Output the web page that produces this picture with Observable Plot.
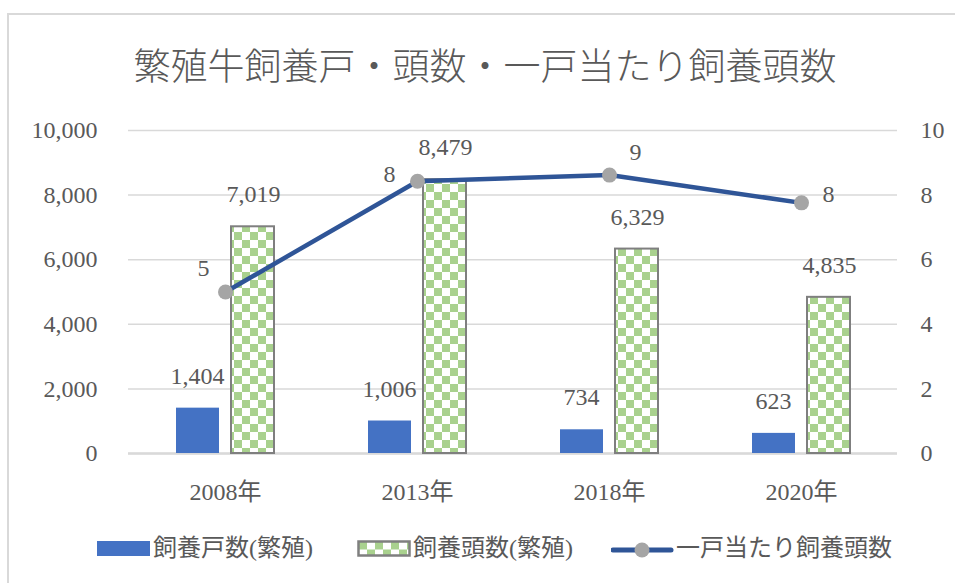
<!DOCTYPE html>
<html><head><meta charset="utf-8">
<script src="https://cdn.jsdelivr.net/npm/d3@7"></script>
<script src="https://cdn.jsdelivr.net/npm/@observablehq/plot@0.6"></script>
<style>
body{margin:0;background:#fff;}
#wrap{position:relative;width:955px;height:583px;overflow:hidden;font-family:"Liberation Serif","Noto Sans CJK JP",serif;color:#595959;background:#fff;}
#frame{position:absolute;left:7px;top:13px;width:980px;height:620px;border-left:2px solid #d9d9d9;border-top:2px solid #d9d9d9;}
#title{position:absolute;left:0;width:970px;top:39px;text-align:center;font-size:37px;line-height:50px;font-weight:300;font-family:"Noto Sans CJK JP",sans-serif;color:#595959;white-space:nowrap;}
#chart{position:absolute;left:0;top:0;}
.lg{position:absolute;font-size:24px;line-height:30px;top:533px;font-family:"Liberation Serif","Noto Sans CJK JP",serif;color:#595959;white-space:nowrap;}
.sw{position:absolute;}
</style>
</head><body>
<div id="wrap">
  <div id="frame"></div>
  <div id="chart"></div>
  <div id="title"></div>
  <div id="legend"></div>
</div>
<script>
// ---- data ----
const titleText = "繁殖牛飼養戸・頭数・一戸当たり飼養頭数";
const years = ["2008年", "2013年", "2018年", "2020年"];
const households = [1404, 1006, 734, 623];          // 飼養戸数(繁殖)
const heads = [7019, 8479, 6329, 4835];             // 飼養頭数(繁殖)
const perHead = [5.0, 8.43, 8.62, 7.76];            // 一戸当たり飼養頭数
const leftTicks = [0, 2000, 4000, 6000, 8000, 10000];
const rightTicks = [0, 2, 4, 6, 8, 10];
const seriesNames = ["飼養戸数(繁殖)", "飼養頭数(繁殖)", "一戸当たり飼養頭数"];

// ---- build ----
const RATIO = 1000; // right axis (0..10) mapped onto left axis (0..10000)
const rows = years.map((y, i) => ({year: y, households: households[i], heads: heads[i], perHead: perHead[i], i}));
const fmt = d3.format(",");
const fmt0 = d3.format(".0f");
const textColor = "#595959";
const fontFam = '"Liberation Serif","Noto Sans CJK JP",serif';

document.getElementById("title").textContent = titleText;

const lineLabel = (idx, dx, dy) => Plot.text(rows.filter(d => d.i === idx), {
  x: "year", y: d => d.perHead * RATIO, text: d => fmt0(d.perHead),
  dx, dy, fill: textColor, fontSize: 24
});

const plot = Plot.plot({
  width: 955,
  height: 583,
  marginTop: 130,
  marginBottom: 130,
  marginLeft: 128,
  marginRight: 58,
  style: {fontFamily: fontFam, fontSize: "24px", color: textColor, background: "transparent", overflow: "visible"},
  x: {domain: years, paddingInner: 0.49, paddingOuter: 0.245, align: 0.5, label: null},
  y: {domain: [0, 10000], label: null},
  marks: [
    Plot.ruleY(leftTicks, {stroke: "#d9d9d9", strokeWidth: 1.5}),
    Plot.ruleY([0], {stroke: "#d9d9d9", strokeWidth: 2.5}),
    Plot.barY(rows, {x: "year", y: "households", fill: "#4472c4", insetRight: 55}),
    Plot.barY(rows, {x: "year", y: "heads", fill: "url(#checker)", stroke: "#7f7f7f", strokeWidth: 2, insetLeft: 55}),
    Plot.text(rows, {x: "year", y: "households", text: d => fmt(d.households), dx: -28, dy: -32, fill: textColor, fontSize: 24}),
    Plot.text(rows, {x: "year", y: "heads", text: d => fmt(d.heads), dx: 28, dy: -32, fill: textColor, fontSize: 24}),
    Plot.line(rows, {x: "year", y: d => d.perHead * RATIO, stroke: "#2f5597", strokeWidth: 4.5}),
    Plot.dot(rows, {x: "year", y: d => d.perHead * RATIO, r: 7.5, fill: "#a5a5a5", stroke: "none"}),
    lineLabel(0, -22, -24),
    lineLabel(1, -28, -7),
    lineLabel(2, 26, -23),
    lineLabel(3, 27, -9),
    Plot.axisY({ticks: leftTicks, tickFormat: fmt, tickSize: 0, tickPadding: 31, label: null, anchor: "left", fontSize: 24}),
    Plot.axisY({ticks: rightTicks.map(v => v * RATIO), tickFormat: d => fmt0(d / RATIO), tickSize: 0, tickPadding: 23, label: null, anchor: "right", fontSize: 24}),
    Plot.axisX({tickSize: 0, tickPadding: 29, label: null, fontSize: 24})
  ]
});

// checkerboard pattern for 飼養頭数
const defs = d3.select(plot).insert("defs", ":first-child");
const pat = defs.append("pattern").attr("id", "checker").attr("patternUnits", "userSpaceOnUse")
  .attr("width", 16).attr("height", 16).attr("x", 2).attr("y", 0);
pat.append("rect").attr("width", 16).attr("height", 16).attr("fill", "#ffffff");
pat.append("rect").attr("x", 0).attr("y", 0).attr("width", 8).attr("height", 8).attr("fill", "#a9d18e");
pat.append("rect").attr("x", 8).attr("y", 8).attr("width", 8).attr("height", 8).attr("fill", "#a9d18e");

document.getElementById("chart").appendChild(plot);

// ---- legend ----
const lg = document.getElementById("legend");
lg.innerHTML = `
  <svg class="sw" style="left:97px;top:541px" width="54" height="16"><rect x="0" y="0" width="53" height="15" fill="#4472c4"/></svg>
  <div class="lg" style="left:153px">${seriesNames[0]}</div>
  <svg class="sw" style="left:357px;top:540px" width="56" height="18">
    <defs><pattern id="lgchk" patternUnits="userSpaceOnUse" width="16" height="16" x="2" y="1.5">
      <rect width="16" height="16" fill="#fff"/><rect width="8" height="8" fill="#a9d18e"/><rect x="8" y="8" width="8" height="8" fill="#a9d18e"/></pattern></defs>
    <rect x="1.5" y="1.5" width="51" height="14" fill="url(#lgchk)" stroke="#7f7f7f" stroke-width="2.5"/></svg>
  <div class="lg" style="left:413px">${seriesNames[1]}</div>
  <svg class="sw" style="left:611px;top:540px" width="64" height="20">
    <line x1="2" x2="60" y1="10" y2="10" stroke="#2f5597" stroke-width="5" stroke-linecap="round"/>
    <circle cx="31" cy="10" r="7.5" fill="#a5a5a5"/></svg>
  <div class="lg" style="left:676px">${seriesNames[2]}</div>
`;
</script>
</body></html>
